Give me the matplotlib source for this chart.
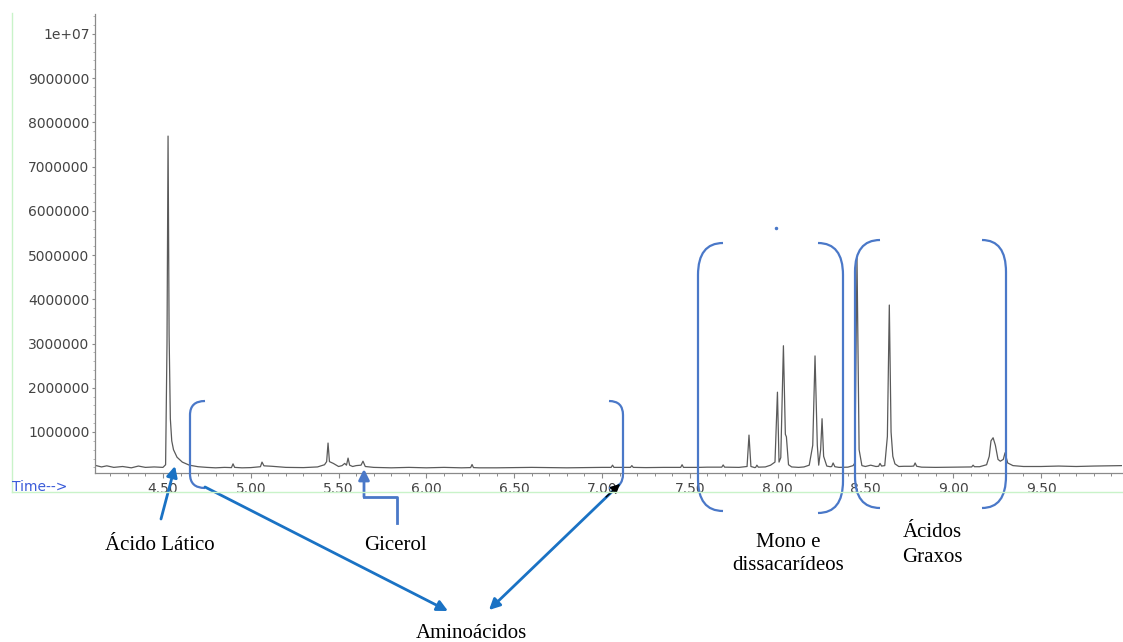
import matplotlib
matplotlib.use("Agg")
import matplotlib.pyplot as plt
from matplotlib.path import Path
from matplotlib.patches import PathPatch, FancyArrowPatch
from matplotlib.lines import Line2D
from matplotlib.ticker import FixedLocator, FixedFormatter, MultipleLocator

# ---------------- data ----------------
time_min = [
    4.12, 4.15, 4.18, 4.22, 4.27, 4.32, 4.36, 4.40, 4.45, 4.50,
    4.515, 4.523, 4.529, 4.535, 4.542, 4.55, 4.56, 4.58, 4.61, 4.65,
    4.70, 4.75, 4.80, 4.85, 4.89, 4.899, 4.908, 4.95, 5.00, 5.055,
    5.064, 5.075, 5.12, 5.20, 5.30, 5.38, 5.42, 5.432, 5.440, 5.448,
    5.47, 5.50, 5.52, 5.535, 5.545, 5.554, 5.563, 5.58, 5.60, 5.628,
    5.639, 5.652, 5.70, 5.80, 5.90, 6.00, 6.10, 6.20, 6.252, 6.26,
    6.268, 6.30, 6.40, 6.60, 6.80, 7.00, 7.052, 7.06, 7.068, 7.10,
    7.162, 7.17, 7.178, 7.25, 7.35, 7.448, 7.456, 7.464, 7.55, 7.60,
    7.682, 7.69, 7.698, 7.78, 7.826, 7.837, 7.848, 7.87, 7.875, 7.882,
    7.89, 7.93, 7.96, 7.985, 7.999, 8.008, 8.018, 8.033, 8.044, 8.050,
    8.062, 8.08, 8.12, 8.15, 8.18, 8.200, 8.213, 8.226, 8.234, 8.245,
    8.253, 8.262, 8.28, 8.30, 8.308, 8.316, 8.326, 8.35, 8.40, 8.43,
    8.440, 8.452, 8.464, 8.48, 8.50, 8.53, 8.56, 8.575, 8.583, 8.592,
    8.61, 8.625, 8.636, 8.646, 8.656, 8.668, 8.69, 8.72, 8.76, 8.775,
    8.783, 8.792, 8.82, 8.90, 9.00, 9.105, 9.113, 9.121, 9.15, 9.19,
    9.205, 9.215, 9.227, 9.24, 9.255, 9.268, 9.285, 9.295, 9.31, 9.34,
    9.40, 9.50, 9.60, 9.70, 9.80, 9.90, 9.96,
]
abundance = [
    240000, 210000, 235000, 200000, 220000, 190000, 230000, 200000, 210000, 200000,
    260000, 3000000, 7690000, 3200000, 1300000, 800000, 600000, 430000, 320000, 250000,
    215000, 200000, 190000, 200000, 195000, 280000, 200000, 190000, 195000, 215000,
    320000, 235000, 225000, 200000, 195000, 210000, 260000, 330000, 750000, 330000,
    290000, 220000, 240000, 290000, 250000, 410000, 250000, 220000, 240000, 250000,
    340000, 220000, 200000, 190000, 200000, 190000, 200000, 190000, 195000, 265000,
    195000, 190000, 190000, 200000, 190000, 200000, 200000, 250000, 200000, 200000,
    200000, 240000, 200000, 195000, 200000, 200000, 260000, 200000, 200000, 205000,
    205000, 255000, 205000, 200000, 220000, 930000, 220000, 195000, 200000, 250000,
    205000, 210000, 250000, 320000, 1900000, 320000, 420000, 2950000, 950000, 890000,
    260000, 210000, 200000, 210000, 250000, 700000, 2720000, 700000, 250000, 600000,
    1300000, 450000, 230000, 215000, 220000, 300000, 215000, 200000, 205000, 240000,
    300000, 4930000, 600000, 240000, 220000, 250000, 220000, 225000, 290000, 230000,
    240000, 900000, 3870000, 1000000, 450000, 280000, 220000, 225000, 225000, 230000,
    300000, 225000, 205000, 200000, 205000, 210000, 250000, 215000, 215000, 260000,
    450000, 800000, 870000, 700000, 380000, 340000, 380000, 530000, 300000, 240000,
    220000, 220000, 230000, 220000, 230000, 235000, 240000,
]

x_major_ticks = [4.50, 5.00, 5.50, 6.00, 6.50, 7.00, 7.50, 8.00, 8.50, 9.00, 9.50]
x_tick_labels = ["4.50", "5.00", "5.50", "6.00", "6.50", "7.00", "7.50", "8.00", "8.50", "9.00", "9.50"]
y_major_ticks = [1e6, 2e6, 3e6, 4e6, 5e6, 6e6, 7e6, 8e6, 9e6, 1e7]
y_tick_labels = ["1000000", "2000000", "3000000", "4000000", "5000000",
                 "6000000", "7000000", "8000000", "9000000", "1e+07"]

label_lactic = "Ácido Lático"
label_glycerol = "Gicerol"
label_amino = "Aminoácidos"
label_sugars = "Mono e\ndissacarídeos"
label_fatty = "Ácidos\nGraxos"

# ---------------- figure ----------------
W, H = 1123, 642
fig = plt.figure(figsize=(W / 100, H / 100), dpi=100)
fig.patch.set_facecolor("white")


def P(x, y):
    return (x / W, 1 - y / H)


ax = fig.add_axes([95 / W, 1 - 473 / H, (1122 - 95) / W, (473 - 14) / H])
ax.plot(time_min, abundance, color="#5a5a5a", lw=0.9)
ax.set_xlim(4.113, 9.961)
ax.set_ylim(73000, 10.45e6)

for s in ["top", "right"]:
    ax.spines[s].set_visible(False)
for s in ["left", "bottom"]:
    ax.spines[s].set_color("#8a8a8a")
    ax.spines[s].set_linewidth(0.9)

ax.xaxis.set_major_locator(FixedLocator(x_major_ticks))
ax.xaxis.set_major_formatter(FixedFormatter(x_tick_labels))
ax.xaxis.set_minor_locator(MultipleLocator(0.1))
ax.yaxis.set_major_locator(FixedLocator(y_major_ticks))
ax.yaxis.set_major_formatter(FixedFormatter(y_tick_labels))
ax.yaxis.set_minor_locator(MultipleLocator(2e5))

ax.tick_params(axis="x", which="major", length=3.5, width=0.8, color="#8a8a8a",
               labelsize=10, labelcolor="#444444", pad=3)
ax.tick_params(axis="x", which="minor", length=2.5, width=0.7, color="#8a8a8a")
ax.tick_params(axis="y", which="major", length=2.5, width=0.8, color="#8a8a8a",
               labelsize=10, labelcolor="#444444", pad=1.5)
ax.tick_params(axis="y", which="minor", length=1.2, width=0.6, color="#aaaaaa")
for t in ax.get_xticklabels() + ax.get_yticklabels():
    t.set_family("DejaVu Sans")

# light green frame
green = "#c9f3c9"
fig.add_artist(Line2D([12 / W, 12 / W], [1 - 13 / H, 1 - 492 / H], color=green, lw=1, transform=fig.transFigure))
fig.add_artist(Line2D([12 / W, 1.0], [1 - 492 / H, 1 - 492 / H], color=green, lw=1, transform=fig.transFigure))

fig.text(12 / W, 1 - 487 / H, "Time-->", color="#3a5bd9", fontsize=10, family="DejaVu Sans",
         ha="left", va="center")

# ---------------- brackets ----------------
bracket_color = "#4a78c8"


def bracket(x_tip, x_v, y_top, y_bot, r):
    verts = [P(x_tip, y_top), P(x_v, y_top), P(x_v, y_top + r),
             P(x_v, y_bot - r), P(x_v, y_bot), P(x_tip, y_bot)]
    codes = [Path.MOVETO, Path.CURVE3, Path.CURVE3, Path.LINETO, Path.CURVE3, Path.CURVE3]
    fig.add_artist(PathPatch(Path(verts, codes), fill=False, edgecolor=bracket_color,
                             lw=1.6, transform=fig.transFigure))


bracket(205, 190, 401, 488, 14)
bracket(609, 623, 401, 488, 14)
bracket(723, 698, 243, 511, 32)
bracket(818, 843, 243, 513, 32)
bracket(880, 855, 240, 508, 32)
bracket(982, 1006, 240, 508, 32)
fig.add_artist(Line2D([776 / W], [1 - 228 / H], marker="o", ms=1.5, color=bracket_color,
                      transform=fig.transFigure))

# ---------------- arrows ----------------
arrow_color = "#1a72c4"


def arrow(p0, p1, color=arrow_color, style="-|>", ms=16, lw=2.0):
    fig.add_artist(FancyArrowPatch(P(*p0), P(*p1), arrowstyle=style, mutation_scale=ms,
                                   color=color, lw=lw, transform=fig.transFigure,
                                   shrinkA=0, shrinkB=0))


arrow((161, 519), (175, 466))
arrow((205, 487), (448, 611))
arrow((619, 485), (489, 610))
arrow((606, 497), (620, 484), color="black", ms=14, lw=1.0)

# glycerol elbow arrow
fig.add_artist(Line2D([397 / W, 397 / W, 364 / W], [1 - 523 / H, 1 - 497 / H, 1 - 497 / H],
                      color=bracket_color, lw=2.0, transform=fig.transFigure))
arrow((364, 497), (364, 469), color=bracket_color)

# ---------------- labels ----------------
serif = "Liberation Serif"
fig.text(*P(160, 545), label_lactic, family=serif, fontsize=15, ha="center", va="center", color="black")
fig.text(*P(395, 545), label_glycerol, family=serif, fontsize=15, ha="center", va="center", color="black")
fig.text(*P(471, 633), label_amino, family=serif, fontsize=15, ha="center", va="center", color="black")
fig.text(*P(788, 554), label_sugars, family=serif, fontsize=15, ha="center", va="center",
         color="black", linespacing=1.3)
fig.text(*P(932, 545), label_fatty, family=serif, fontsize=15, ha="center", va="center",
         color="black", linespacing=1.45)

fig.savefig("out.png", dpi=100)
